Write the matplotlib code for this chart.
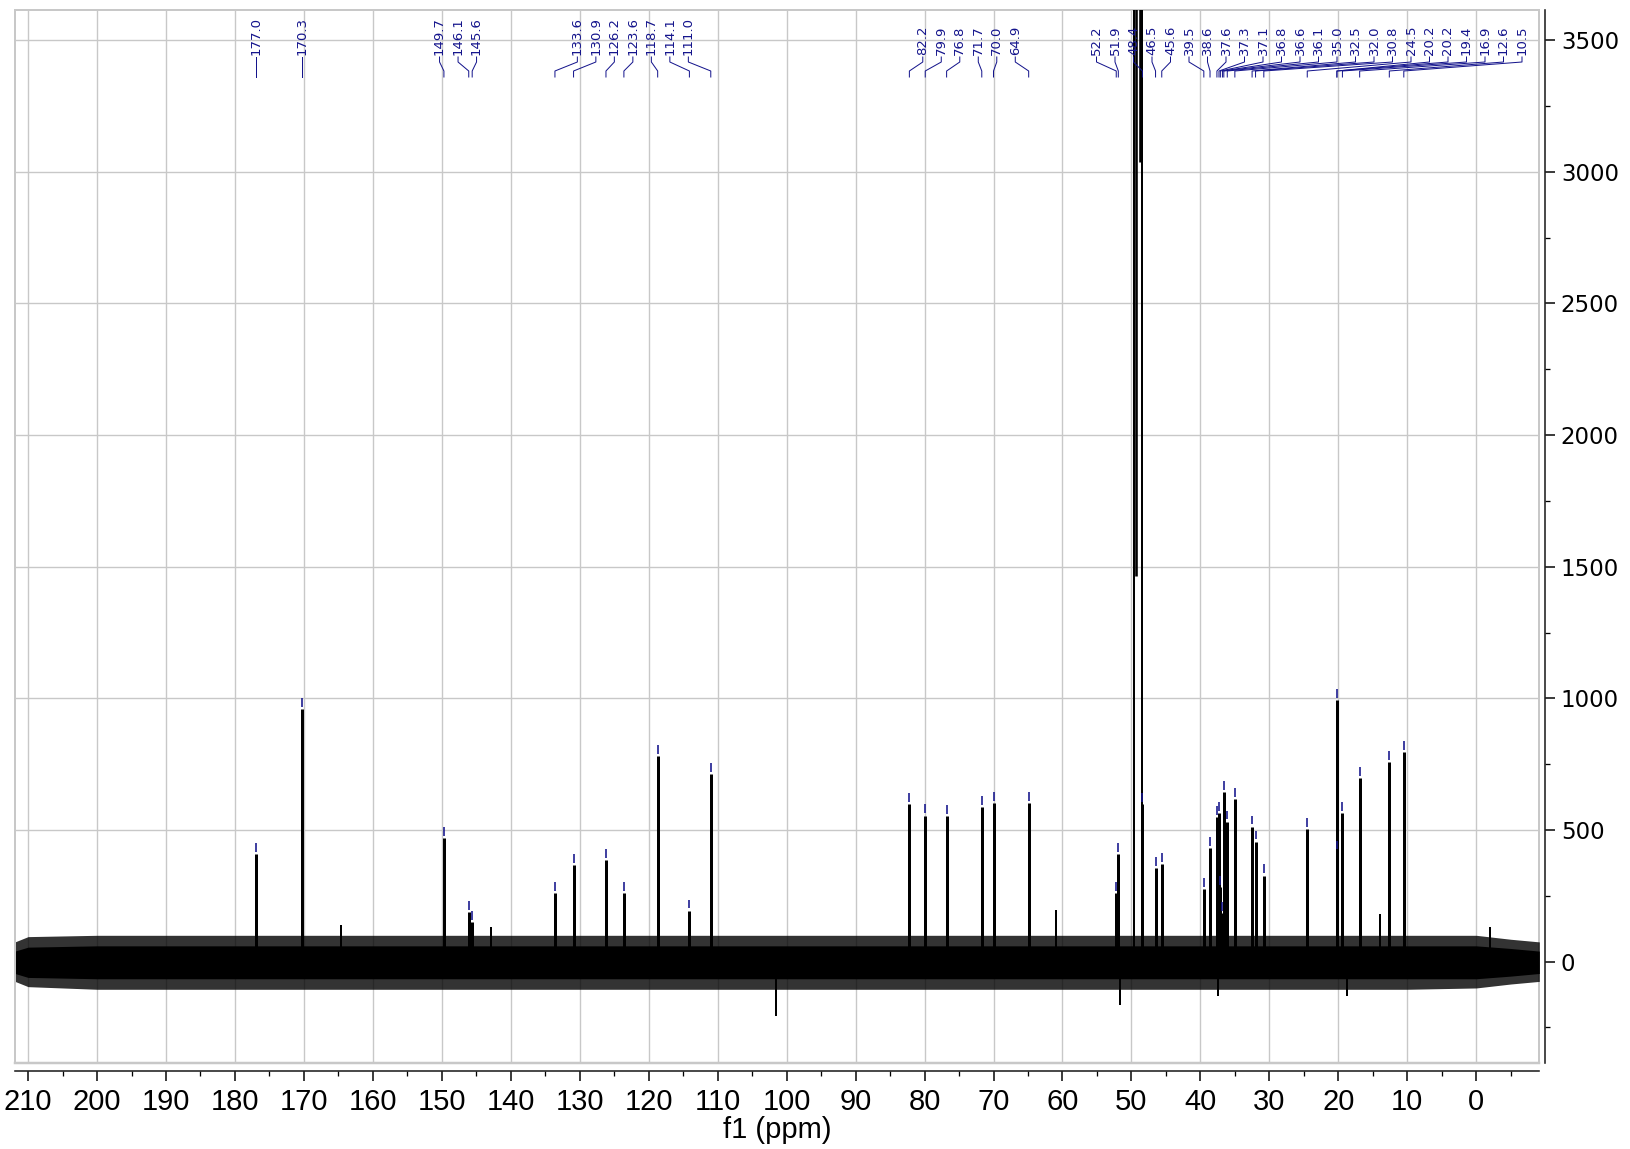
import matplotlib
matplotlib.use("Agg")
import matplotlib.pyplot as plt
from matplotlib.ticker import FixedLocator, MultipleLocator
from matplotlib.transforms import blended_transform_factory

# ---------------- spectrum data (13C, ppm) ----------------
peak_ppm = [177.0, 170.3, 149.7, 146.1, 145.6, 133.6, 130.9, 126.2, 123.6,
            118.7, 114.1, 111.0, 82.2, 79.9, 76.8, 71.7, 70.0, 64.9, 52.2,
            51.9, 48.4, 46.5, 45.6, 39.5, 38.6, 37.6, 37.3, 37.1, 36.8, 36.6,
            36.1, 35.0, 32.5, 32.0, 30.8, 24.5, 20.2, 20.2, 19.4, 16.9, 12.6,
            10.5]
peak_height = [409, 958, 471, 189, 150, 262, 367, 387, 262,
               782, 194, 712, 598, 555, 553, 587, 602, 602, 262,
               410, 600, 355, 371, 275, 433, 550, 564, 283, 185, 643,
               532, 618, 513, 456, 327, 503, 995, 418, 564, 698, 757,
               796]

# solvent (CD3OD) multiplet, runs off the top of the scale
solvent_ppm = [49.62, 49.30, 48.82, 48.51]
solvent_low = [-40, 1465, 3039, -40]
solvent_high = [12000, 12000, 12000, 12000]

# unassigned spikes in the baseline
artifact_ppm = [164.6, 142.8, 101.5, 61.0, 51.6, 37.4, 18.7, 14.0, -2.0]
artifact_height = [140, 130, -205, 195, -165, -130, -130, 180, 130]

# baseline noise envelope
noise_ppm = [211.9, 210.0, 200.0, 150.0, 100.0, 50.0, 10.0, 0.0, -5.0, -9.15]
noise_outer_hi = [75, 95, 100, 100, 100, 100, 100, 100, 85, 75]
noise_outer_lo = [-75, -95, -105, -105, -105, -105, -105, -100, -85, -75]
noise_core_hi = [40, 55, 60, 60, 60, 60, 60, 60, 50, 40]
noise_core_lo = [-45, -60, -65, -65, -65, -65, -65, -65, -55, -45]

x_ticks = list(range(210, -1, -10))
y_ticks = list(range(0, 3501, 500))
x_label = "f1 (ppm)"

# ---------------- layout ----------------
FIG_W, FIG_H, DPI = 1631, 1149, 100
AX_L, AX_R, AX_T, AX_B = 15.0, 1539.3, 10.4, 1063.0   # pixels
PT = 72.0 / DPI                                       # points per pixel
GRID = "#c8c8c8"
NAVY = "#14148c"

fig = plt.figure(figsize=(FIG_W / DPI, FIG_H / DPI), dpi=DPI)
ax = fig.add_axes([AX_L / FIG_W, 1 - AX_B / FIG_H,
                   (AX_R - AX_L) / FIG_W, (AX_B - AX_T) / FIG_H])
ax.set_xlim(211.9, -9.15)
ax.set_ylim(-385, 3613)


def yfrac(px_from_top):
    return 1 - (px_from_top - AX_T) / (AX_B - AX_T)


# grid & frame
ax.set_axisbelow(True)
ax.xaxis.set_major_locator(FixedLocator(x_ticks))
ax.xaxis.set_minor_locator(MultipleLocator(5))
ax.yaxis.set_major_locator(FixedLocator(y_ticks))
ax.yaxis.set_minor_locator(MultipleLocator(250))
ax.grid(True, which="major", color=GRID, lw=1.4 * PT)

for s in ("top", "left"):
    ax.spines[s].set_color(GRID)
    ax.spines[s].set_linewidth(2 * PT)
ax.plot([0, 1], [0, 0], transform=ax.transAxes, color=GRID, lw=2.5 * PT,
        clip_on=False, zorder=0.5)
ax.plot([1, 1], [0, 1], transform=ax.transAxes, color=GRID, lw=2 * PT,
        clip_on=False, zorder=0.5)
ax.spines["bottom"].set_position(("outward", 8 * PT))
ax.spines["right"].set_position(("outward", 6 * PT))
for s in ("bottom", "right"):
    ax.spines[s].set_color("#202020")
    ax.spines[s].set_linewidth(1.6 * PT)

ax.yaxis.tick_right()
ax.tick_params(axis="x", which="major", length=10 * PT, width=1.5 * PT,
               labelsize=21, pad=5)
ax.tick_params(axis="x", which="minor", length=5 * PT, width=1.3 * PT)
ax.tick_params(axis="y", which="major", length=10 * PT, width=1.5 * PT,
               labelsize=16.5, pad=4)
ax.tick_params(axis="y", which="minor", length=5 * PT, width=1.3 * PT)
for lab in ax.get_xticklabels():
    lab.set_family("Liberation Sans")
for lab in ax.get_yticklabels():
    lab.set_family("DejaVu Sans")
ax.set_xlabel(x_label, fontsize=21, family="Liberation Sans", labelpad=0)

# baseline noise
ax.fill_between(noise_ppm, noise_outer_lo, noise_outer_hi, color="black",
                alpha=0.8, lw=0, zorder=2)
ax.fill_between(noise_ppm, noise_core_lo, noise_core_hi, color="black",
                lw=0, zorder=2)

# signals
ax.vlines(artifact_ppm, 0, artifact_height, color="black", lw=2 * PT, zorder=3)
ax.vlines(peak_ppm, 0, peak_height, color="black", lw=3 * PT, zorder=3)
ax.vlines(solvent_ppm, solvent_low, solvent_high, color="black",
          lw=[2 * PT, 2.6 * PT, 2.6 * PT, 2 * PT], zorder=3)

# peak-pick markers just above each peak top
ax.vlines(peak_ppm, [h + 8 for h in peak_height],
          [h + 42 for h in peak_height], color=NAVY, lw=1.6 * PT, zorder=4)


# ---------------- peak labels ----------------
def spread_labels(pos, gap, thresh, right_bound):
    """Evenly spaced label slots per cluster of nearby peaks (pos increasing)."""
    groups = [[0]]
    for i in range(1, len(pos)):
        if pos[i] - pos[i - 1] < thresh:
            groups[-1].append(i)
        else:
            groups.append([i])
    starts = []
    for g in groups:
        centre = (pos[g[0]] + pos[g[-1]]) / 2
        starts.append(centre - (len(g) - 1) / 2 * gap)
    for k in range(1, len(groups)):
        prev_end = starts[k - 1] + (len(groups[k - 1]) - 1) * gap
        if starts[k] < prev_end + gap:
            starts[k] = prev_end + gap
    last = len(groups) - 1
    end = starts[last] + (len(groups[last]) - 1) * gap
    if end > right_bound:
        starts[last] -= end - right_bound
    for k in range(last - 1, -1, -1):
        end = starts[k] + (len(groups[k]) - 1) * gap
        if end > starts[k + 1] - gap:
            starts[k] -= end - (starts[k + 1] - gap)
    slots = []
    for g, s in zip(groups, starts):
        slots += [s + j * gap for j in range(len(g))]
    return slots


x0, x1 = ax.get_xlim()
px_per_ppm = (AX_R - AX_L) / (x0 - x1)
u = [-p for p in peak_ppm]
slots = spread_labels(u, 18.5 / px_per_ppm, 42 / px_per_ppm,
                      -(x0 - (1522 - AX_L) / px_per_ppm))
label_ppm = [-s for s in slots]

blend = blended_transform_factory(ax.transData, ax.transAxes)
for p, lx in zip(peak_ppm, label_ppm):
    ax.text(lx, yfrac(55), f"{p:.1f}", rotation=90, ha="center", va="bottom",
            color=NAVY, fontsize=9.5, family="DejaVu Sans", transform=blend,
            zorder=5)
    ax.plot([lx, lx, p, p], [yfrac(57), yfrac(62), yfrac(71), yfrac(77)],
            color=NAVY, lw=1.0 * PT, transform=blend, zorder=5)

fig.savefig("out.png", dpi=DPI)
